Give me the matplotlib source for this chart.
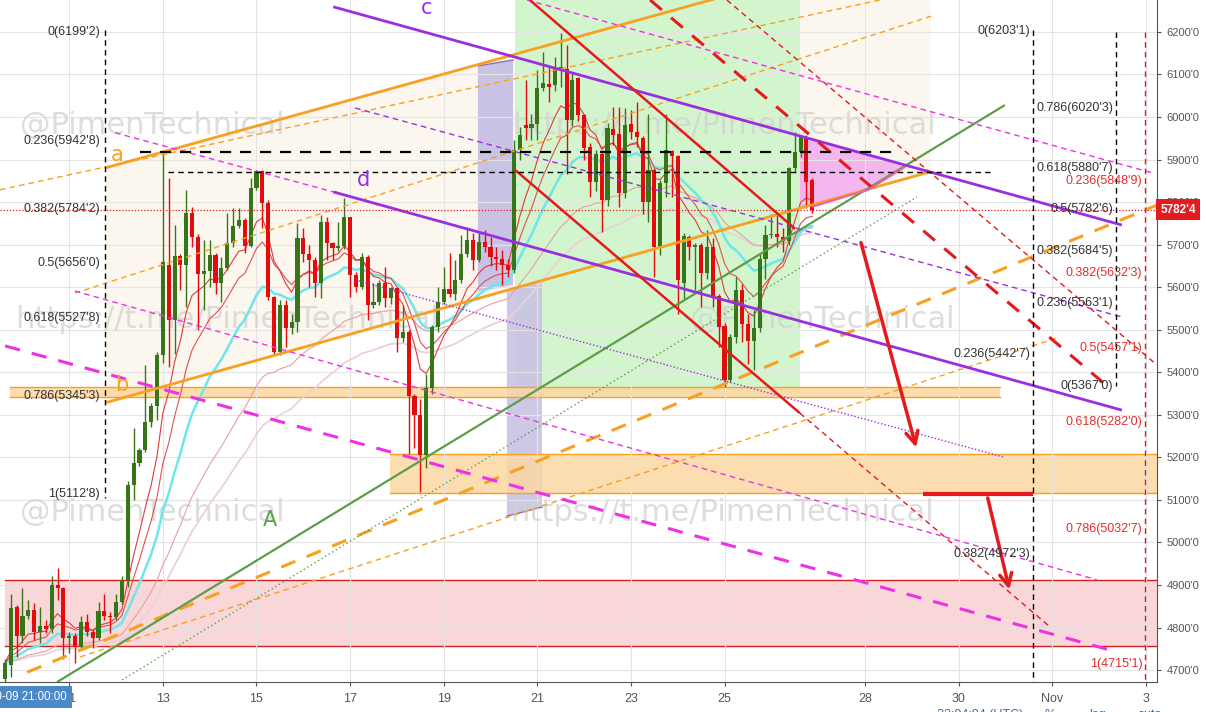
import numpy as np
import pandas as pd
import matplotlib
matplotlib.use('Agg')
import matplotlib.pyplot as plt
from matplotlib.patches import Polygon, Rectangle
import matplotlib.transforms as mtransforms

# 3h candles from 2018-10-09 15:00, x axis in "day of October" (Nov 1 = 32)
start_day = 9.625
step = 0.125

opens = [4680, 4712, 4849, 4779, 4826, 4841, 4790, 4804, 4797, 4900, 4892, 4775, 4780, 4755, 4814, 4790,
         4775, 4839, 4826, 4824, 4861, 4912, 5135, 5186, 5217, 5284, 5321, 5440, 5652, 5523, 5673, 5652,
         5774, 5719, 5632, 5638, 5676, 5609, 5644, 5705, 5744, 5758, 5697, 5832, 5872, 5797, 5578, 5448,
         5558, 5503, 5519, 5715, 5679, 5665, 5609, 5754, 5705, 5691, 5697, 5764, 5628, 5601, 5672, 5558,
         5566, 5610, 5574, 5597, 5480, 5495, 5344, 5299, 5205, 5362, 5507, 5566, 5595, 5585, 5617, 5679,
         5711, 5665, 5707, 5694, 5672, 5666, 5652, 5640, 5922, 5981, 5975, 5983, 6067, 6078, 6075, 6112,
         6112, 5994, 6091, 6005, 5930, 5848, 5913, 5805, 5971, 5960, 5822, 5983, 5965, 5950, 5801, 5875,
         5695, 5844, 5921, 5908, 5609, 5718, 5695, 5699, 5634, 5695, 5579, 5508, 5383, 5483, 5594, 5513,
         5474, 5503, 5667, 5722, 5726, 5718, 5709, 5879, 5918, 5952, 5852]
highs = [4725, 4880, 4853, 4892, 4865, 4857, 4849, 4818, 4920, 4939, 4896, 4790, 4786, 4826, 4833, 4795,
         4861, 4880, 4837, 4880, 4920, 5145, 5268, 5221, 5417, 5327, 5448, 5915, 5856, 5746, 5679, 5828,
         5789, 5725, 5711, 5711, 5680, 5672, 5774, 5785, 5785, 5762, 5856, 5876, 5876, 5805, 5580, 5570,
         5570, 5538, 5750, 5738, 5699, 5672, 5770, 5766, 5707, 5754, 5809, 5766, 5636, 5680, 5676, 5609,
         5617, 5648, 5601, 5601, 5558, 5499, 5350, 5338, 5397, 5512, 5601, 5648, 5680, 5664, 5723, 5742,
         5727, 5727, 5734, 5719, 5695, 5687, 5666, 5946, 5977, 6087, 6008, 6110, 6153, 6122, 6142, 6197,
         6169, 6106, 6095, 6008, 5938, 5922, 5922, 5985, 6024, 6024, 6020, 6016, 6036, 5955, 6008, 5879,
         5852, 6008, 5922, 5911, 5727, 5722, 5703, 5703, 5734, 5715, 5585, 5515, 5490, 5624, 5608, 5538,
         5546, 5679, 5746, 5773, 5769, 5738, 5883, 5965, 5958, 5958, 5856]
lows = [4672, 4684, 4731, 4763, 4820, 4771, 4763, 4786, 4786, 4865, 4727, 4739, 4716, 4750, 4779, 4751,
        4770, 4818, 4786, 4818, 4855, 4895, 5099, 5180, 5213, 5272, 5287, 5421, 5413, 5444, 5593, 5554,
        5695, 5499, 5546, 5601, 5585, 5566, 5640, 5695, 5740, 5680, 5695, 5828, 5738, 5570, 5440, 5440,
        5460, 5491, 5495, 5660, 5601, 5577, 5574, 5664, 5664, 5685, 5690, 5577, 5589, 5596, 5523, 5550,
        5558, 5554, 5560, 5448, 5470, 5209, 5221, 5119, 5174, 5350, 5495, 5560, 5578, 5570, 5610, 5670,
        5640, 5660, 5682, 5650, 5640, 5605, 5625, 5634, 5900, 5946, 5946, 5946, 6060, 6036, 6060, 6070,
        5867, 5980, 5990, 5900, 5812, 5826, 5730, 5790, 5935, 5789, 5810, 5948, 5930, 5773, 5754, 5624,
        5675, 5812, 5812, 5538, 5573, 5664, 5593, 5554, 5620, 5554, 5460, 5366, 5378, 5468, 5471, 5420,
        5405, 5495, 5620, 5715, 5695, 5683, 5700, 5870, 5905, 5785, 5775]
closes = [4716, 4845, 4779, 4826, 4841, 4790, 4804, 4797, 4900, 4892, 4775, 4780, 4755, 4814, 4790, 4775,
          4839, 4826, 4824, 4861, 4912, 5135, 5186, 5217, 5284, 5321, 5440, 5660, 5523, 5673, 5652, 5774,
          5719, 5632, 5638, 5676, 5609, 5644, 5705, 5744, 5758, 5697, 5832, 5872, 5797, 5578, 5448, 5558,
          5503, 5519, 5715, 5679, 5665, 5609, 5754, 5705, 5691, 5697, 5764, 5628, 5601, 5672, 5558, 5566,
          5610, 5574, 5597, 5480, 5495, 5344, 5299, 5205, 5362, 5507, 5566, 5595, 5585, 5617, 5679, 5711,
          5665, 5707, 5694, 5672, 5666, 5652, 5640, 5922, 5957, 5975, 5983, 6067, 6081, 6070, 6112, 6117,
          5994, 6088, 6005, 5926, 5848, 5913, 5805, 5973, 5958, 5822, 5981, 5965, 5952, 5801, 5875, 5695,
          5844, 5922, 5908, 5616, 5720, 5695, 5699, 5634, 5695, 5577, 5507, 5381, 5483, 5594, 5513, 5474,
          5503, 5667, 5722, 5726, 5718, 5709, 5879, 5918, 5952, 5848, 5782]

last_price = 5782.4

# fibonacci labels
left_levels = ['0', '0.236', '0.382', '0.5', '0.618', '0.786', '1']
left_prices = [6199.2, 5942.8, 5784.2, 5656.0, 5527.8, 5345.3, 5112.8]
mid_levels = ['0', '0.236', '0.382']
mid_prices = [6203.1, 5442.7, 4972.3]
right_levels = ['0.786', '0.618', '0.5', '0.382', '0.236', '0']
right_prices = [6020.3, 5880.7, 5782.6, 5684.5, 5563.1, 5367.0]
red_levels = ['0.236', '0.382', '0.5', '0.618', '0.786', '1']
red_prices = [5848.9, 5632.3, 5457.1, 5282.0, 5032.7, 4715.1]

# drawings, (day, price)
line_a = [(11.76, 5880), (29.39, 6418)]
line_b = [(11.76, 5328), (29.39, 5871)]
orange_thin1 = [(9.52, 5829), (28.32, 6275)]
orange_thin2 = [(11.12, 5586), (29.50, 6240)]
orange_thin3 = [(11.23, 4731), (32.11, 5481)]
orange_thick = [(10.10, 4695), (34.24, 5793)]
green_A = [(10.74, 4672), (30.99, 6028)]
green_dot = [(12.13, 4677), (29.11, 5812)]
purple_c = [(16.64, 6259), (33.49, 5746)]
purple_d = [(16.64, 5824), (33.49, 5311)]
purple_mid = [(17.11, 6021), (33.49, 5530)]
purple_dot = [(17.11, 5617), (30.95, 5201)]
magenta_d_ext = [(11.98, 5963), (16.64, 5824)]
magenta_top = [(20.78, 6275), (34.16, 5868)]
magenta_low = [(11.12, 5591), (32.96, 4912)]
magenta_thick = [(9.63, 5462), (33.24, 4747)]
red_upper = [(20.84, 6275), (26.51, 5737)]
red_lower = [(20.52, 5876), (26.61, 5304)]
red_lower_ext = [(26.61, 5304), (31.96, 4801)]
red_thick = [(23.41, 6275), (33.28, 5358)]
red_thin = [(25.05, 6275), (34.24, 5417)]
black_thick_h = [(12.51, 5918), (28.69, 5918)]
black_thin_h = [(13.11, 5871), (30.67, 5871)]
arrow1 = [(27.90, 5711), (29.11, 5217)]
red_flat = [(29.24, 5114), (31.59, 5114)]
arrow2 = [(30.61, 5111), (31.10, 4883)]

band_small = (9.73, 30.89, 5342, 5365)
band_big = (17.85, 34.30, 5116, 5208)
band_pink = (9.63, 34.30, 4756, 4912)
green_box = (20.52, 26.61, 5347, 6300)
purple_box1 = [(19.73, 6120), (20.48, 6134), (20.48, 5605), (19.73, 5589)]
purple_box2 = [(20.35, 5593), (21.10, 5612), (21.10, 5083), (20.35, 5062)]
pink_tri = [(26.61, 5955), (28.86, 5883), (28.07, 5829), (26.87, 5789), (26.61, 5789)]

tick_days = [11, 13, 15, 17, 19, 21, 23, 25, 28, 30, 32, 34]
tick_names = ['11', '13', '15', '17', '19', '21', '23', '25', '28', '30', 'Nov', '3']

ORANGE = '#f7a021'
PURPLE = '#9b2fe0'
MAGENTA = '#ee30e6'
GREEN = '#5c9e48'
RED = '#e41a1c'


def fmt(p):
    return f"{p:.1f}".replace('.', "'")


def seg(ax, pts, color, lw, ls='-', z=4):
    xs, ys = zip(*pts)
    ax.plot(xs, ys, color=color, lw=lw, ls=ls, zorder=z, solid_capstyle='butt')


fig = plt.figure(figsize=(12.06, 7.12), dpi=100)
ax = fig.add_axes([0, 30 / 712, 1157 / 1206, 682 / 712])
ax.set_xlim(9.52, 34.24)
ax.set_ylim(4672, 6275)

# grid
ax.set_yticks(np.arange(4700, 6201, 100))
ax.set_yticklabels([f"{v}'0" for v in range(4700, 6201, 100)])
ax.set_xticks(tick_days)
ax.set_xticklabels(tick_names)
ax.grid(True, color='#e4e4e4', lw=0.8, zorder=0)
ax.yaxis.tick_right()
ax.tick_params(axis='y', colors='#555555', labelsize=8, length=3, pad=4, labelfontfamily='Liberation Sans')
ax.tick_params(axis='x', colors='#555555', labelsize=9, length=3, pad=5, labelfontfamily='Liberation Sans')
for s in ['top', 'left']:
    ax.spines[s].set_visible(False)
for s in ['bottom', 'right']:
    ax.spines[s].set_color('#555555')

# fills
xs = np.array([line_a[0][0], line_a[1][0]])
ax.fill_between(xs, [line_b[0][1], line_b[1][1]], [line_a[0][1], line_a[1][1]],
                color='#fbf6ee', zorder=0.5, lw=0)
ax.add_patch(Rectangle((green_box[0], green_box[2]), green_box[1] - green_box[0], green_box[3] - green_box[2],
                       fc='#d3f5cd', ec='none', zorder=0.8))
ax.add_patch(Polygon(purple_box1, closed=True, fc='#c9c2e4', ec='none', zorder=1))
ax.add_patch(Polygon(purple_box2, closed=True, fc='#c9c2e4', ec='none', zorder=1, alpha=0.9))
ax.plot([purple_box1[0][0], purple_box1[1][0]], [purple_box1[0][1], purple_box1[1][1]], color='#8a70c0', lw=1, zorder=1.1)
ax.plot([purple_box2[3][0], purple_box2[2][0]], [purple_box2[3][1], purple_box2[2][1]], color='#8a70c0', lw=1, zorder=1.1)
for (x0, x1, y0, y1), fc, ec in [(band_small, '#fbd7a2', ORANGE), (band_big, '#fbd7a2', ORANGE),
                                 (band_pink, '#f9d0d3', '#d42020')]:
    ax.add_patch(Rectangle((x0, y0), x1 - x0, y1 - y0, fc=fc, ec='none', alpha=0.85, zorder=1.2))
    ax.plot([x0, x1], [y0, y0], color=ec, lw=1, zorder=1.3)
    ax.plot([x0, x1], [y1, y1], color=ec, lw=1, zorder=1.3)
ax.add_patch(Polygon(pink_tri, closed=True, fc='#f4b6ee', ec='none', zorder=1.2))

# watermarks
wm = dict(fontsize=22, color='#d2d2d2', alpha=0.75, va='center', ha='left', zorder=2)
ax.text(9.95, 5981, '@PimenTechnical', **wm)
ax.text(20.46, 5981, 'https://t.me/PimenTechnical', **wm)
ax.text(9.84, 5523, 'https://t.me/PimenTechnical', **wm)
ax.text(24.26, 5523, '@PimenTechnical', **wm)
ax.text(9.95, 5071, '@PimenTechnical', **wm)
ax.text(20.42, 5071, 'https://t.me/PimenTechnical', **wm)

# candles
n = len(closes)
t = start_day + step * np.arange(n)
o = np.array(opens, float)
c = np.array(closes, float)
up = c >= o
col = np.where(up, '#367619', '#e30b0b')
ax.vlines(t, lows, highs, colors=col, lw=1, zorder=3)
body = np.where(np.abs(c - o) < 4, 4, np.abs(c - o))
ax.bar(t, body, bottom=np.minimum(o, c), width=0.088, color=col, zorder=3.1, lw=0)

# moving averages
cs = pd.Series(c)
ax.plot(t, cs.ewm(span=55, adjust=False).mean(), color='#ecd0d8', lw=1.3, zorder=2.6)
ax.plot(t, cs.ewm(span=40, adjust=False).mean(), color='#e8a0a0', lw=0.8, zorder=2.6)
ax.plot(t, cs.ewm(span=21, adjust=False).mean(), color='#6ee6ea', lw=1.8, zorder=2.7)
ax.plot(t, cs.ewm(span=13, adjust=False).mean(), color='#e05050', lw=0.8, zorder=2.8)
ax.plot(t, cs.ewm(span=8, adjust=False).mean(), color='#e03a3a', lw=0.8, zorder=2.8)

# trend lines
thin = (0, (4, 3))
thick = (0, (5, 4))
seg(ax, line_a, ORANGE, 2)
seg(ax, line_b, ORANGE, 2)
seg(ax, orange_thin1, ORANGE, 1, thin)
seg(ax, orange_thin2, ORANGE, 1, thin)
seg(ax, orange_thin3, ORANGE, 1, thin)
seg(ax, orange_thick, ORANGE, 2.2, thick)
seg(ax, green_A, GREEN, 1.6)
seg(ax, green_dot, GREEN, 1, (0, (1, 2)))
seg(ax, purple_c, PURPLE, 2)
seg(ax, purple_d, PURPLE, 2)
seg(ax, purple_mid, PURPLE, 1, thin)
seg(ax, purple_dot, PURPLE, 1, (0, (1, 1.5)))
seg(ax, magenta_d_ext, MAGENTA, 1, thin)
seg(ax, magenta_top, MAGENTA, 1, thin)
seg(ax, magenta_low, MAGENTA, 1, thin)
seg(ax, magenta_thick, MAGENTA, 2.2, thick)
seg(ax, red_upper, RED, 1.8)
seg(ax, red_lower, RED, 1.8)
seg(ax, red_lower_ext, RED, 1, thin)
seg(ax, red_thick, RED, 2.2, thick)
seg(ax, red_thin, RED, 1, thin)
seg(ax, [pink_tri[3], pink_tri[2], pink_tri[1]], '#ee5fa8', 1.5)
seg(ax, black_thick_h, 'black', 1.6, (0, (5, 4)))
seg(ax, black_thin_h, 'black', 1, (0, (4, 3)))
ax.axhline(last_price, color=RED, lw=0.9, ls=(0, (1, 1.5)), zorder=4)

# fib verticals
ax.plot([11.76, 11.76], [6205, 5104], color='black', lw=1, ls=thin, zorder=4)
ax.plot([31.59, 31.59], [6205, 4672], color='black', lw=1, ls=thin, zorder=4)
ax.plot([33.37, 33.37], [6199, 5367], color='black', lw=1, ls=thin, zorder=4)
ax.plot([33.99, 33.99], [6199, 4672], color=RED, lw=1, ls=thin, zorder=4)

# arrows
for a in (arrow1, arrow2):
    ax.annotate('', xy=a[1], xytext=a[0], zorder=5,
                arrowprops=dict(arrowstyle='->', color=RED, lw=2.5, mutation_scale=22))
seg(ax, red_flat, RED, 3, z=5)

# fib labels
lab = dict(fontsize=9, va='center', ha='right', family='Liberation Sans', zorder=6)
for lv, p in zip(left_levels, left_prices):
    ax.text(11.66, p, f"{lv}({fmt(p)})", color='#333333', **lab)
for lv, p in zip(mid_levels, mid_prices):
    ax.text(31.53, p, f"{lv}({fmt(p)})", color='#333333', **lab)
for lv, p in zip(right_levels, right_prices):
    ax.text(33.30, p, f"{lv}({fmt(p)})", color='#333333', **lab)
for lv, p in zip(red_levels, red_prices):
    ax.text(33.93, p, f"{lv}({fmt(p)})", color='#e03030', **lab)

# letters
ax.text(12.02, 5911, 'a', color=ORANGE, fontsize=15, ha='center', va='center', zorder=6)
ax.text(12.13, 5370, 'b', color=ORANGE, fontsize=15, ha='center', va='center', zorder=6)
ax.text(18.64, 6256, 'c', color=PURPLE, fontsize=15, ha='center', va='center', zorder=6)
ax.text(17.28, 5852, 'd', color=PURPLE, fontsize=15, ha='center', va='center', zorder=6)
ax.text(15.29, 5053, 'A', color=GREEN, fontsize=15, ha='center', va='center', zorder=6)

# last price tag
trans = mtransforms.blended_transform_factory(ax.transAxes, ax.transData)
ax.text(1.003, last_price, fmt(last_price), transform=trans, ha='left', va='center', color='white',
        fontsize=8.5, fontweight='bold', family='Liberation Sans', clip_on=False, zorder=7,
        bbox=dict(fc='#e41a1c', ec='none', boxstyle='square,pad=0.35'))

# bottom bar
fig.text(67 / 1206, 15 / 712, '10-09 21:00:00', ha='right', va='center', color='white', fontsize=8.3,
         family='Liberation Sans', bbox=dict(fc='#4a88c7', ec='none', boxstyle='square,pad=0.4'))
for xp, s in [(980, '22:04:04 (UTC)'), (1050, '%'), (1098, 'log'), (1150, 'auto')]:
    fig.text(xp / 1206, -3 / 712, s, ha='center', va='center', color='#4a6a8a', fontsize=9,
             family='Liberation Sans')

fig.savefig('out.png', dpi=100)
